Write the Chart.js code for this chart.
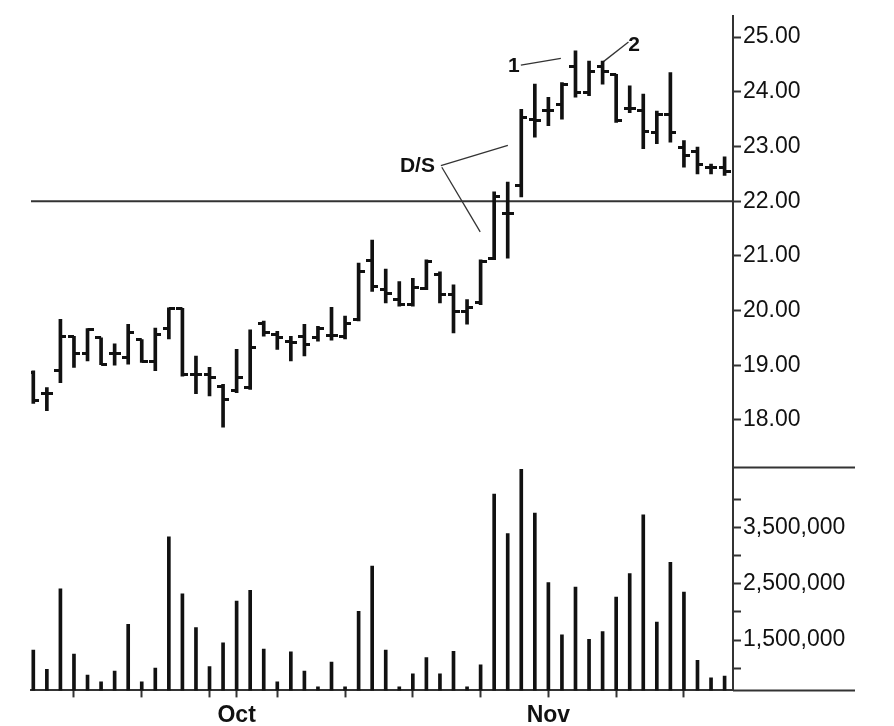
<!DOCTYPE html>
<html>
<head>
<meta charset="utf-8">
<script src="https://cdn.jsdelivr.net/npm/chart.js@4"></script>
<style>
  html, body { margin: 0; padding: 0; background: #fff; }
  canvas { display: block; }
</style>
</head>
<body>
<canvas id="myChart" width="894" height="726"></canvas>
<script>
// daily bars, index 0 = Sep 10 ... index 51 = Nov 20
const opens  = [18.86,18.48,18.91,19.53,19.21,19.50,19.21,19.14,19.47,19.06,19.68,20.04,18.84,18.84,18.62,18.53,18.59,19.77,19.56,19.44,
                19.53,19.50,19.55,19.53,19.84,20.91,20.39,20.21,20.11,20.41,20.66,20.29,19.99,20.14,20.95,21.77,22.29,23.50,23.65,23.77,
                24.47,23.99,24.47,24.32,23.70,23.65,23.26,23.59,22.99,22.90,22.61,22.61];
const highs  = [18.90,18.59,19.84,19.53,19.67,19.50,19.39,19.75,19.47,19.68,20.05,20.04,19.17,18.96,18.65,19.29,19.65,19.81,19.62,19.53,
                19.75,19.71,20.06,19.90,20.87,21.29,20.76,20.53,20.59,20.93,20.71,20.47,20.20,20.93,22.17,22.35,23.68,24.14,23.90,24.17,
                24.75,24.56,24.56,24.32,24.11,23.96,23.65,24.35,23.11,22.99,22.68,22.81];
const lows   = [18.30,18.17,18.68,18.96,19.08,19.01,19.00,19.02,19.05,18.90,19.48,18.80,18.48,18.44,17.87,18.50,18.56,19.53,19.29,19.08,
                19.17,19.44,19.46,19.48,19.81,20.35,20.14,20.08,20.08,20.38,20.14,19.59,19.75,20.11,20.93,20.96,22.08,23.17,23.38,23.50,
                23.90,23.93,24.14,23.44,23.62,22.96,23.05,23.08,22.62,22.50,22.50,22.47];
const closes = [18.35,18.48,19.53,19.21,19.65,19.02,19.22,19.59,19.06,19.56,20.04,18.84,18.84,18.77,18.38,18.77,19.33,19.59,19.50,19.41,
                19.38,19.68,19.55,19.77,20.71,20.44,20.32,20.11,20.42,20.90,20.29,19.99,20.05,20.90,22.08,21.77,23.53,23.48,23.65,24.13,
                23.99,24.38,24.38,23.47,23.70,23.28,23.59,23.26,22.84,22.68,22.61,22.55];
const volumes = [1320000,980000,2410000,1250000,880000,760000,950000,1780000,760000,1000000,3330000,2320000,1720000,1030000,1450000,2190000,2380000,1340000,760000,1290000,
                 950000,670000,1110000,670000,2010000,2810000,1320000,670000,900000,1190000,900000,1300000,670000,1060000,4090000,3390000,4530000,3750000,2520000,1590000,
                 2440000,1510000,1650000,2260000,2680000,3720000,1820000,2880000,2350000,1140000,830000,860000];

const priceTicks = [18, 19, 20, 21, 22, 23, 24, 25];
const volTicks = [1000000, 1500000, 2000000, 2500000, 3000000, 3500000, 4000000];
const volLabels = [1500000, 2500000, 3500000];
const dayTicks = [3, 8, 13, 15, 18, 23, 28, 33, 38, 43, 48];
const monthIdx = [15, 38];
const monthNames = ['Oct', 'Nov'];
const level = 22;

// annotations (index, price)
const noteText = ['1', '2', 'D/S'];
const noteX = [35.45, 44.33, 28.34];
const noteY = [24.46, 24.85, 22.64];
const leaderLines = [
  [[35.97, 24.49], [38.92, 24.61]],
  [[41.90, 24.52], [43.91, 24.91]],
  [[30.07, 22.65], [35.01, 23.02]],
  [[30.14, 22.62], [32.97, 21.44]]
];

const xMin = -0.17, xMax = 51.62;
const FONT = "'Liberation Sans', Arial, sans-serif";
const INK = '#111';

function tickMark(side) {
  const c = document.createElement('canvas');
  c.width = 12; c.height = 3;
  const g = c.getContext('2d');
  g.fillStyle = INK;
  g.fillRect(side === 'left' ? 0 : 6, 0, 6, 3);
  return c;
}

const idx = opens.map((_, i) => i);

const notesPlugin = {
  id: 'notes',
  afterDatasetsDraw(chart) {
    const { ctx, scales } = chart;
    ctx.save();
    ctx.fillStyle = INK;
    ctx.font = 'bold 21px ' + FONT;
    ctx.textAlign = 'center';
    ctx.textBaseline = 'middle';
    noteText.forEach((t, i) => {
      ctx.fillText(t, scales.x.getPixelForValue(noteX[i]), scales.y.getPixelForValue(noteY[i]));
    });
    ctx.restore();
  }
};

const frameExt = {
  id: 'frameExt',
  afterDraw(chart) {
    const { ctx, chartArea, scales } = chart;
    ctx.save();
    ctx.strokeStyle = '#333';
    ctx.lineWidth = 2;
    ctx.beginPath();
    ctx.moveTo(chartArea.right, scales.y.bottom);
    ctx.lineTo(chartArea.right + 122, scales.y.bottom);
    ctx.moveTo(chartArea.right, chartArea.bottom);
    ctx.lineTo(chartArea.right + 122, chartArea.bottom);
    ctx.stroke();
    ctx.restore();
  }
};

const datasets = [
  {
    type: 'bar', yAxisID: 'yv', grouped: false,
    data: idx.map(i => ({ x: i, y: volumes[i] })),
    backgroundColor: INK, barThickness: 3
  },
  {
    type: 'bar', yAxisID: 'y', grouped: false,
    data: idx.map(i => ({ x: i, y: [lows[i], highs[i]] })),
    backgroundColor: INK, barThickness: 3
  },
  {
    type: 'line', yAxisID: 'y', showLine: false,
    data: idx.map(i => ({ x: i, y: opens[i] })),
    pointStyle: tickMark('left')
  },
  {
    type: 'line', yAxisID: 'y', showLine: false,
    data: idx.map(i => ({ x: i, y: closes[i] })),
    pointStyle: tickMark('right')
  },
  {
    type: 'line', yAxisID: 'y',
    data: [{ x: xMin, y: level }, { x: xMax, y: level }],
    borderColor: '#333', borderWidth: 2, pointRadius: 0
  }
];
leaderLines.forEach(seg => {
  datasets.push({
    type: 'line', yAxisID: 'y',
    data: seg.map(p => ({ x: p[0], y: p[1] })),
    borderColor: '#333', borderWidth: 1.3, pointRadius: 0
  });
});

new Chart(document.getElementById('myChart'), {
  data: { datasets },
  plugins: [notesPlugin, frameExt],
  options: {
    responsive: false,
    animation: false,
    layout: { padding: { top: 13, left: 31, right: 0, bottom: -7 } },
    plugins: { legend: { display: false }, tooltip: { enabled: false } },
    scales: {
      x: {
        type: 'linear', min: xMin, max: xMax, offset: false,
        afterBuildTicks: s => { s.ticks = dayTicks.map(v => ({ value: v })); },
        grid: { drawOnChartArea: false, offset: false, tickLength: 7, tickColor: '#333', tickWidth: 2 },
        border: { color: '#333', width: 2 },
        ticks: {
          autoSkip: false, maxRotation: 0, padding: 4, color: INK,
          font: { family: FONT, size: 23, weight: 'bold', lineHeight: 1.2 },
          callback: v => { const k = monthIdx.indexOf(v); return k >= 0 ? monthNames[k] : ''; }
        }
      },
      y: {
        type: 'linear', position: 'right', stack: 'panes', stackWeight: 454,
        min: 17.13, max: 25.39,
        afterBuildTicks: s => { s.ticks = priceTicks.map(v => ({ value: v })); },
        afterFit: s => { s.width = 161; },
        grid: { drawOnChartArea: false, tickLength: 8, tickColor: '#333', tickWidth: 2 },
        border: { color: '#333', width: 2 },
        ticks: {
          autoSkip: false, padding: 2, color: INK,
          font: { family: FONT, size: 23 },
          callback: v => v.toFixed(2)
        }
      },
      yv: {
        type: 'linear', position: 'right', stack: 'panes', stackWeight: 224,
        min: 606000, max: 4560000,
        afterBuildTicks: s => { s.ticks = volTicks.map(v => ({ value: v })); },
        afterFit: s => { s.width = 161; },
        grid: { drawOnChartArea: false, tickLength: 8, tickColor: '#333', tickWidth: 2 },
        border: { color: '#333', width: 2 },
        ticks: {
          autoSkip: false, padding: 2, color: INK,
          font: { family: FONT, size: 23 },
          callback: v => volLabels.includes(v) ? v.toLocaleString('en-US') : ''
        }
      }
    }
  }
});
</script>
</body>
</html>
